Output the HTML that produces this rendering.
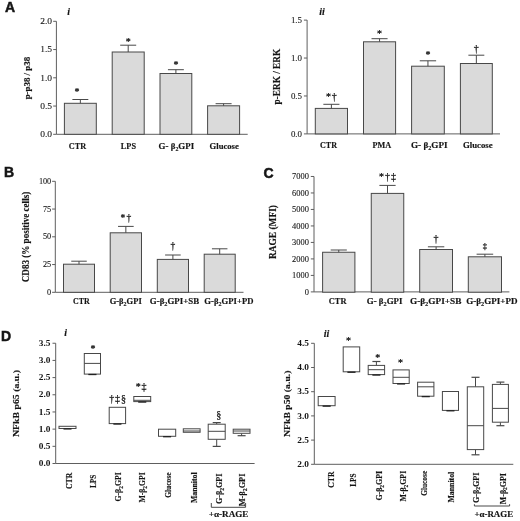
<!DOCTYPE html>
<html><head><meta charset="utf-8"><style>
html,body{margin:0;padding:0;background:#fff;width:520px;height:521px;overflow:hidden}
svg{display:block;filter:grayscale(1) blur(0.35px)}
</style></head><body>
<svg width="520" height="521" viewBox="0 0 520 521">
<rect width="520" height="521" fill="#fff"/>
<text x="4.9" y="12.3" font-family="'Liberation Sans', sans-serif" font-size="14" font-weight="bold" text-anchor="start" fill="#151515" stroke="#151515" stroke-width="0.5">A</text>
<text x="68.6" y="15" font-family="'Liberation Serif', serif" font-size="10" font-weight="bold" font-style="italic" text-anchor="middle" fill="#151515" stroke="#151515" stroke-width="0.15">i</text>
<line x1="56.4" y1="21.3" x2="56.4" y2="134.3" stroke="#5e5e5e" stroke-width="1"/>
<line x1="53.199999999999996" y1="134.3" x2="56.4" y2="134.3" stroke="#5e5e5e" stroke-width="1"/>
<text x="52.1" y="137.1" font-family="'Liberation Serif', serif" font-size="9" font-weight="normal" text-anchor="end" fill="#151515" stroke="#151515" stroke-width="0.1" textLength="11.85" lengthAdjust="spacingAndGlyphs">0.0</text>
<line x1="53.199999999999996" y1="106.05000000000001" x2="56.4" y2="106.05000000000001" stroke="#5e5e5e" stroke-width="1"/>
<text x="52.1" y="108.85" font-family="'Liberation Serif', serif" font-size="9" font-weight="normal" text-anchor="end" fill="#151515" stroke="#151515" stroke-width="0.1" textLength="11.85" lengthAdjust="spacingAndGlyphs">0.5</text>
<line x1="53.199999999999996" y1="77.80000000000001" x2="56.4" y2="77.80000000000001" stroke="#5e5e5e" stroke-width="1"/>
<text x="52.1" y="80.6" font-family="'Liberation Serif', serif" font-size="9" font-weight="normal" text-anchor="end" fill="#151515" stroke="#151515" stroke-width="0.1" textLength="11.85" lengthAdjust="spacingAndGlyphs">1.0</text>
<line x1="53.199999999999996" y1="49.55000000000001" x2="56.4" y2="49.55000000000001" stroke="#5e5e5e" stroke-width="1"/>
<text x="52.1" y="52.35" font-family="'Liberation Serif', serif" font-size="9" font-weight="normal" text-anchor="end" fill="#151515" stroke="#151515" stroke-width="0.1" textLength="11.85" lengthAdjust="spacingAndGlyphs">1.5</text>
<line x1="53.199999999999996" y1="21.30000000000001" x2="56.4" y2="21.30000000000001" stroke="#5e5e5e" stroke-width="1"/>
<text x="52.1" y="24.1" font-family="'Liberation Serif', serif" font-size="9" font-weight="normal" text-anchor="end" fill="#151515" stroke="#151515" stroke-width="0.1" textLength="11.85" lengthAdjust="spacingAndGlyphs">2.0</text>
<line x1="56.4" y1="134.3" x2="247.7" y2="134.3" stroke="#5e5e5e" stroke-width="1"/>
<rect x="64.4" y="103.3" width="31.90" height="31.00" fill="#dadada" stroke="#484848" stroke-width="1"/>
<line x1="80.35" y1="103.3" x2="80.35" y2="99.5" stroke="#484848" stroke-width="1"/>
<line x1="72.375" y1="99.5" x2="88.32499999999999" y2="99.5" stroke="#484848" stroke-width="1"/>
<text x="77.05" y="95.4" font-family="'Liberation Serif', serif" font-size="10" font-weight="normal" text-anchor="middle" fill="#151515" stroke="#151515" stroke-width="0.25">*</text>
<rect x="112.2" y="52.0" width="32.00" height="82.30" fill="#dadada" stroke="#484848" stroke-width="1"/>
<line x1="128.2" y1="52.0" x2="128.2" y2="45.2" stroke="#484848" stroke-width="1"/>
<line x1="120.19999999999999" y1="45.2" x2="136.2" y2="45.2" stroke="#484848" stroke-width="1"/>
<text x="128.2" y="44.9" font-family="'Liberation Serif', serif" font-size="10" font-weight="normal" text-anchor="middle" fill="#151515" stroke="#151515" stroke-width="0.25">*</text>
<rect x="160.0" y="73.5" width="31.80" height="60.80" fill="#dadada" stroke="#484848" stroke-width="1"/>
<line x1="175.9" y1="73.5" x2="175.9" y2="69.7" stroke="#484848" stroke-width="1"/>
<line x1="167.95" y1="69.7" x2="183.85000000000002" y2="69.7" stroke="#484848" stroke-width="1"/>
<text x="175.9" y="67.6" font-family="'Liberation Serif', serif" font-size="10" font-weight="normal" text-anchor="middle" fill="#151515" stroke="#151515" stroke-width="0.25">*</text>
<rect x="207.6" y="105.8" width="32.00" height="28.50" fill="#dadada" stroke="#484848" stroke-width="1"/>
<line x1="223.6" y1="105.8" x2="223.6" y2="103.7" stroke="#484848" stroke-width="1"/>
<line x1="215.6" y1="103.7" x2="231.6" y2="103.7" stroke="#484848" stroke-width="1"/>
<text x="77.5" y="149.3" font-family="'Liberation Serif', serif" font-size="8.3" font-weight="bold" text-anchor="middle" fill="#151515" stroke="#151515" stroke-width="0.15" textLength="17.4" lengthAdjust="spacingAndGlyphs">CTR</text>
<text x="128.4" y="149.3" font-family="'Liberation Serif', serif" font-size="8.3" font-weight="bold" text-anchor="middle" fill="#151515" stroke="#151515" stroke-width="0.15" textLength="15.2" lengthAdjust="spacingAndGlyphs">LPS</text>
<text x="176.4" y="149.3" font-family="'Liberation Serif', serif" font-size="8.3" font-weight="bold" text-anchor="middle" fill="#151515" stroke="#151515" stroke-width="0.15" textLength="35.6" lengthAdjust="spacingAndGlyphs">G- β<tspan dy="1.8" font-size="5.5">2</tspan><tspan dy="-1.8">GPI</tspan></text>
<text x="224.2" y="149.3" font-family="'Liberation Serif', serif" font-size="8.3" font-weight="bold" text-anchor="middle" fill="#151515" stroke="#151515" stroke-width="0.15" textLength="29.2" lengthAdjust="spacingAndGlyphs">Glucose</text>
<text x="30.3" y="78.1" font-family="'Liberation Serif', serif" font-size="9.2" font-weight="bold" text-anchor="middle" fill="#151515" stroke="#151515" stroke-width="0.15" transform="rotate(-90 30.3 78.1)" textLength="42.5" lengthAdjust="spacingAndGlyphs">p-p38 / p38</text>
<text x="322" y="14.5" font-family="'Liberation Serif', serif" font-size="10" font-weight="bold" font-style="italic" text-anchor="middle" fill="#151515" stroke="#151515" stroke-width="0.15">ii</text>
<line x1="307.1" y1="20.1" x2="307.1" y2="133.9" stroke="#5e5e5e" stroke-width="1"/>
<line x1="303.90000000000003" y1="133.9" x2="307.1" y2="133.9" stroke="#5e5e5e" stroke-width="1"/>
<text x="302.0" y="136.7" font-family="'Liberation Serif', serif" font-size="9" font-weight="normal" text-anchor="end" fill="#151515" stroke="#151515" stroke-width="0.1" textLength="11.1" lengthAdjust="spacingAndGlyphs">0.0</text>
<line x1="303.90000000000003" y1="95.97" x2="307.1" y2="95.97" stroke="#5e5e5e" stroke-width="1"/>
<text x="302.0" y="98.77" font-family="'Liberation Serif', serif" font-size="9" font-weight="normal" text-anchor="end" fill="#151515" stroke="#151515" stroke-width="0.1" textLength="11.1" lengthAdjust="spacingAndGlyphs">0.5</text>
<line x1="303.90000000000003" y1="58.040000000000006" x2="307.1" y2="58.040000000000006" stroke="#5e5e5e" stroke-width="1"/>
<text x="302.0" y="60.84" font-family="'Liberation Serif', serif" font-size="9" font-weight="normal" text-anchor="end" fill="#151515" stroke="#151515" stroke-width="0.1" textLength="11.1" lengthAdjust="spacingAndGlyphs">1.0</text>
<line x1="303.90000000000003" y1="20.110000000000014" x2="307.1" y2="20.110000000000014" stroke="#5e5e5e" stroke-width="1"/>
<text x="302.0" y="22.91" font-family="'Liberation Serif', serif" font-size="9" font-weight="normal" text-anchor="end" fill="#151515" stroke="#151515" stroke-width="0.1" textLength="11.1" lengthAdjust="spacingAndGlyphs">1.5</text>
<line x1="307.1" y1="133.9" x2="500" y2="133.9" stroke="#5e5e5e" stroke-width="1"/>
<rect x="315.3" y="108.4" width="32.20" height="25.50" fill="#dadada" stroke="#484848" stroke-width="1"/>
<line x1="331.4" y1="108.4" x2="331.4" y2="104.3" stroke="#484848" stroke-width="1"/>
<line x1="323.34999999999997" y1="104.3" x2="339.45" y2="104.3" stroke="#484848" stroke-width="1"/>
<text x="331.4" y="99.6" font-family="'Liberation Serif', serif" font-size="10" font-weight="normal" text-anchor="middle" fill="#151515" stroke="#151515" stroke-width="0.25" textLength="10.9" lengthAdjust="spacing">*†</text>
<rect x="363.5" y="41.8" width="32.10" height="92.10" fill="#dadada" stroke="#484848" stroke-width="1"/>
<line x1="379.55" y1="41.8" x2="379.55" y2="38.7" stroke="#484848" stroke-width="1"/>
<line x1="371.525" y1="38.7" x2="387.57500000000005" y2="38.7" stroke="#484848" stroke-width="1"/>
<text x="379.55" y="37.0" font-family="'Liberation Serif', serif" font-size="10" font-weight="normal" text-anchor="middle" fill="#151515" stroke="#151515" stroke-width="0.25">*</text>
<rect x="411.6" y="66.2" width="32.70" height="67.70" fill="#dadada" stroke="#484848" stroke-width="1"/>
<line x1="427.95000000000005" y1="66.2" x2="427.95000000000005" y2="60.8" stroke="#484848" stroke-width="1"/>
<line x1="419.77500000000003" y1="60.8" x2="436.12500000000006" y2="60.8" stroke="#484848" stroke-width="1"/>
<text x="427.95000000000005" y="58.1" font-family="'Liberation Serif', serif" font-size="10" font-weight="normal" text-anchor="middle" fill="#151515" stroke="#151515" stroke-width="0.25">*</text>
<rect x="460.4" y="63.5" width="31.90" height="70.40" fill="#dadada" stroke="#484848" stroke-width="1"/>
<line x1="476.35" y1="63.5" x2="476.35" y2="55.2" stroke="#484848" stroke-width="1"/>
<line x1="468.375" y1="55.2" x2="484.32500000000005" y2="55.2" stroke="#484848" stroke-width="1"/>
<text x="476.35" y="51.8" font-family="'Liberation Serif', serif" font-size="10" font-weight="normal" text-anchor="middle" fill="#151515" stroke="#151515" stroke-width="0.25">†</text>
<text x="328.5" y="147.8" font-family="'Liberation Serif', serif" font-size="8.3" font-weight="bold" text-anchor="middle" fill="#151515" stroke="#151515" stroke-width="0.15" textLength="17" lengthAdjust="spacingAndGlyphs">CTR</text>
<text x="381.8" y="147.8" font-family="'Liberation Serif', serif" font-size="8.3" font-weight="bold" text-anchor="middle" fill="#151515" stroke="#151515" stroke-width="0.15" textLength="18.7" lengthAdjust="spacingAndGlyphs">PMA</text>
<text x="429.3" y="147.8" font-family="'Liberation Serif', serif" font-size="8.3" font-weight="bold" text-anchor="middle" fill="#151515" stroke="#151515" stroke-width="0.15" textLength="36.7" lengthAdjust="spacingAndGlyphs">G- β<tspan dy="1.8" font-size="5.5">2</tspan><tspan dy="-1.8">GPI</tspan></text>
<text x="477.8" y="147.8" font-family="'Liberation Serif', serif" font-size="8.3" font-weight="bold" text-anchor="middle" fill="#151515" stroke="#151515" stroke-width="0.15" textLength="29.6" lengthAdjust="spacingAndGlyphs">Glucose</text>
<text x="280.3" y="76.6" font-family="'Liberation Serif', serif" font-size="9.4" font-weight="bold" text-anchor="middle" fill="#151515" stroke="#151515" stroke-width="0.15" transform="rotate(-90 280.3 76.6)" textLength="55.6" lengthAdjust="spacingAndGlyphs">p-ERK / ERK</text>
<text x="4.0" y="177.4" font-family="'Liberation Sans', sans-serif" font-size="14" font-weight="bold" text-anchor="start" fill="#151515" stroke="#151515" stroke-width="0.5">B</text>
<line x1="55.3" y1="181.3" x2="55.3" y2="292.3" stroke="#5e5e5e" stroke-width="1"/>
<line x1="52.099999999999994" y1="292.3" x2="55.3" y2="292.3" stroke="#5e5e5e" stroke-width="1"/>
<text x="51.2" y="294.9" font-family="'Liberation Serif', serif" font-size="8" font-weight="normal" text-anchor="end" fill="#151515" stroke="#151515" stroke-width="0.1" textLength="4.1" lengthAdjust="spacingAndGlyphs">0</text>
<line x1="52.099999999999994" y1="264.55" x2="55.3" y2="264.55" stroke="#5e5e5e" stroke-width="1"/>
<text x="51.2" y="267.15" font-family="'Liberation Serif', serif" font-size="8" font-weight="normal" text-anchor="end" fill="#151515" stroke="#151515" stroke-width="0.1" textLength="8.2" lengthAdjust="spacingAndGlyphs">25</text>
<line x1="52.099999999999994" y1="236.8" x2="55.3" y2="236.8" stroke="#5e5e5e" stroke-width="1"/>
<text x="51.2" y="239.4" font-family="'Liberation Serif', serif" font-size="8" font-weight="normal" text-anchor="end" fill="#151515" stroke="#151515" stroke-width="0.1" textLength="8.2" lengthAdjust="spacingAndGlyphs">50</text>
<line x1="52.099999999999994" y1="209.05" x2="55.3" y2="209.05" stroke="#5e5e5e" stroke-width="1"/>
<text x="51.2" y="211.65" font-family="'Liberation Serif', serif" font-size="8" font-weight="normal" text-anchor="end" fill="#151515" stroke="#151515" stroke-width="0.1" textLength="8.2" lengthAdjust="spacingAndGlyphs">75</text>
<line x1="52.099999999999994" y1="181.3" x2="55.3" y2="181.3" stroke="#5e5e5e" stroke-width="1"/>
<text x="51.2" y="183.9" font-family="'Liberation Serif', serif" font-size="8" font-weight="normal" text-anchor="end" fill="#151515" stroke="#151515" stroke-width="0.1" textLength="12.3" lengthAdjust="spacingAndGlyphs">100</text>
<line x1="55.3" y1="292.3" x2="243.5" y2="292.3" stroke="#5e5e5e" stroke-width="1"/>
<rect x="63.5" y="264.2" width="31.00" height="28.10" fill="#dadada" stroke="#484848" stroke-width="1"/>
<line x1="79.0" y1="264.2" x2="79.0" y2="261.2" stroke="#484848" stroke-width="1"/>
<line x1="71.25" y1="261.2" x2="86.75" y2="261.2" stroke="#484848" stroke-width="1"/>
<rect x="110.2" y="232.8" width="31.30" height="59.50" fill="#dadada" stroke="#484848" stroke-width="1"/>
<line x1="125.85" y1="232.8" x2="125.85" y2="226.4" stroke="#484848" stroke-width="1"/>
<line x1="118.02499999999999" y1="226.4" x2="133.67499999999998" y2="226.4" stroke="#484848" stroke-width="1"/>
<text x="125.85" y="220.8" font-family="'Liberation Serif', serif" font-size="9.5" font-weight="normal" text-anchor="middle" fill="#151515" stroke="#151515" stroke-width="0.25" textLength="10.65" lengthAdjust="spacing">*†</text>
<rect x="157.3" y="259.4" width="31.20" height="32.90" fill="#dadada" stroke="#484848" stroke-width="1"/>
<line x1="172.9" y1="259.4" x2="172.9" y2="255.0" stroke="#484848" stroke-width="1"/>
<line x1="165.10000000000002" y1="255.0" x2="180.7" y2="255.0" stroke="#484848" stroke-width="1"/>
<text x="172.9" y="249.2" font-family="'Liberation Serif', serif" font-size="9.5" font-weight="normal" text-anchor="middle" fill="#151515" stroke="#151515" stroke-width="0.25">†</text>
<rect x="204.2" y="254.2" width="31.00" height="38.10" fill="#dadada" stroke="#484848" stroke-width="1"/>
<line x1="219.7" y1="254.2" x2="219.7" y2="248.8" stroke="#484848" stroke-width="1"/>
<line x1="211.95" y1="248.8" x2="227.45" y2="248.8" stroke="#484848" stroke-width="1"/>
<text x="81.4" y="303.8" font-family="'Liberation Serif', serif" font-size="7.9" font-weight="bold" text-anchor="middle" fill="#151515" stroke="#151515" stroke-width="0.15" textLength="16.7" lengthAdjust="spacingAndGlyphs">CTR</text>
<text x="125.7" y="303.8" font-family="'Liberation Serif', serif" font-size="7.9" font-weight="bold" text-anchor="middle" fill="#151515" stroke="#151515" stroke-width="0.15" textLength="32.1" lengthAdjust="spacingAndGlyphs">G-β<tspan dy="1.8" font-size="5.5">2</tspan><tspan dy="-1.8">GPI</tspan></text>
<text x="174.5" y="303.8" font-family="'Liberation Serif', serif" font-size="7.9" font-weight="bold" text-anchor="middle" fill="#151515" stroke="#151515" stroke-width="0.15" textLength="49.3" lengthAdjust="spacingAndGlyphs">G-β<tspan dy="1.8" font-size="5.5">2</tspan><tspan dy="-1.8">GPI</tspan>+SB</text>
<text x="228.9" y="303.8" font-family="'Liberation Serif', serif" font-size="7.9" font-weight="bold" text-anchor="middle" fill="#151515" stroke="#151515" stroke-width="0.15" textLength="49.1" lengthAdjust="spacingAndGlyphs">G-β<tspan dy="1.8" font-size="5.5">2</tspan><tspan dy="-1.8">GPI</tspan>+PD</text>
<text x="28.6" y="237" font-family="'Liberation Serif', serif" font-size="9.8" font-weight="bold" text-anchor="middle" fill="#151515" stroke="#151515" stroke-width="0.15" transform="rotate(-90 28.6 237)" textLength="90.4" lengthAdjust="spacingAndGlyphs">CD83 (% positive cells)</text>
<text x="263.5" y="177.8" font-family="'Liberation Sans', sans-serif" font-size="14" font-weight="bold" text-anchor="start" fill="#151515" stroke="#151515" stroke-width="0.5">C</text>
<line x1="314" y1="176.5" x2="314" y2="291.9" stroke="#5e5e5e" stroke-width="1"/>
<line x1="310.8" y1="291.9" x2="314" y2="291.9" stroke="#5e5e5e" stroke-width="1"/>
<text x="308.9" y="294.5" font-family="'Liberation Serif', serif" font-size="8" font-weight="normal" text-anchor="end" fill="#151515" stroke="#151515" stroke-width="0.1" textLength="4.2" lengthAdjust="spacingAndGlyphs">0</text>
<line x1="310.8" y1="275.40999999999997" x2="314" y2="275.40999999999997" stroke="#5e5e5e" stroke-width="1"/>
<text x="308.9" y="278.01" font-family="'Liberation Serif', serif" font-size="8" font-weight="normal" text-anchor="end" fill="#151515" stroke="#151515" stroke-width="0.1" textLength="16.8" lengthAdjust="spacingAndGlyphs">1000</text>
<line x1="310.8" y1="258.91999999999996" x2="314" y2="258.91999999999996" stroke="#5e5e5e" stroke-width="1"/>
<text x="308.9" y="261.52" font-family="'Liberation Serif', serif" font-size="8" font-weight="normal" text-anchor="end" fill="#151515" stroke="#151515" stroke-width="0.1" textLength="16.8" lengthAdjust="spacingAndGlyphs">2000</text>
<line x1="310.8" y1="242.42999999999998" x2="314" y2="242.42999999999998" stroke="#5e5e5e" stroke-width="1"/>
<text x="308.9" y="245.03" font-family="'Liberation Serif', serif" font-size="8" font-weight="normal" text-anchor="end" fill="#151515" stroke="#151515" stroke-width="0.1" textLength="16.8" lengthAdjust="spacingAndGlyphs">3000</text>
<line x1="310.8" y1="225.94" x2="314" y2="225.94" stroke="#5e5e5e" stroke-width="1"/>
<text x="308.9" y="228.54" font-family="'Liberation Serif', serif" font-size="8" font-weight="normal" text-anchor="end" fill="#151515" stroke="#151515" stroke-width="0.1" textLength="16.8" lengthAdjust="spacingAndGlyphs">4000</text>
<line x1="310.8" y1="209.45" x2="314" y2="209.45" stroke="#5e5e5e" stroke-width="1"/>
<text x="308.9" y="212.05" font-family="'Liberation Serif', serif" font-size="8" font-weight="normal" text-anchor="end" fill="#151515" stroke="#151515" stroke-width="0.1" textLength="16.8" lengthAdjust="spacingAndGlyphs">5000</text>
<line x1="310.8" y1="192.95999999999998" x2="314" y2="192.95999999999998" stroke="#5e5e5e" stroke-width="1"/>
<text x="308.9" y="195.56" font-family="'Liberation Serif', serif" font-size="8" font-weight="normal" text-anchor="end" fill="#151515" stroke="#151515" stroke-width="0.1" textLength="16.8" lengthAdjust="spacingAndGlyphs">6000</text>
<line x1="310.8" y1="176.46999999999997" x2="314" y2="176.46999999999997" stroke="#5e5e5e" stroke-width="1"/>
<text x="308.9" y="179.07" font-family="'Liberation Serif', serif" font-size="8" font-weight="normal" text-anchor="end" fill="#151515" stroke="#151515" stroke-width="0.1" textLength="16.8" lengthAdjust="spacingAndGlyphs">7000</text>
<line x1="314" y1="291.9" x2="509.4" y2="291.9" stroke="#5e5e5e" stroke-width="1"/>
<rect x="322.6" y="252.25" width="32.30" height="39.95" fill="#dadada" stroke="#484848" stroke-width="1"/>
<line x1="338.75" y1="252.25" x2="338.75" y2="250" stroke="#484848" stroke-width="1"/>
<line x1="330.675" y1="250" x2="346.825" y2="250" stroke="#484848" stroke-width="1"/>
<rect x="371.25" y="193.4" width="32.50" height="98.80" fill="#dadada" stroke="#484848" stroke-width="1"/>
<line x1="387.5" y1="193.4" x2="387.5" y2="185.4" stroke="#484848" stroke-width="1"/>
<line x1="379.375" y1="185.4" x2="395.625" y2="185.4" stroke="#484848" stroke-width="1"/>
<text x="387.5" y="179.5" font-family="'Liberation Serif', serif" font-size="10" font-weight="normal" text-anchor="middle" fill="#151515" stroke="#151515" stroke-width="0.25" textLength="16.8" lengthAdjust="spacing">*†‡</text>
<rect x="419.7" y="249.5" width="32.80" height="42.70" fill="#dadada" stroke="#484848" stroke-width="1"/>
<line x1="436.1" y1="249.5" x2="436.1" y2="246.8" stroke="#484848" stroke-width="1"/>
<line x1="427.90000000000003" y1="246.8" x2="444.3" y2="246.8" stroke="#484848" stroke-width="1"/>
<text x="436.1" y="241.7" font-family="'Liberation Serif', serif" font-size="10" font-weight="normal" text-anchor="middle" fill="#151515" stroke="#151515" stroke-width="0.25">†</text>
<rect x="468.3" y="256.8" width="33.20" height="35.40" fill="#dadada" stroke="#484848" stroke-width="1"/>
<line x1="484.9" y1="256.8" x2="484.9" y2="254.2" stroke="#484848" stroke-width="1"/>
<line x1="476.59999999999997" y1="254.2" x2="493.2" y2="254.2" stroke="#484848" stroke-width="1"/>
<text x="484.9" y="249.4" font-family="'Liberation Serif', serif" font-size="8.5" font-weight="normal" text-anchor="middle" fill="#151515" stroke="#151515" stroke-width="0.25">‡</text>
<text x="337.6" y="303.9" font-family="'Liberation Serif', serif" font-size="7.9" font-weight="bold" text-anchor="middle" fill="#151515" stroke="#151515" stroke-width="0.15" textLength="17.7" lengthAdjust="spacingAndGlyphs">CTR</text>
<text x="384.6" y="303.9" font-family="'Liberation Serif', serif" font-size="7.9" font-weight="bold" text-anchor="middle" fill="#151515" stroke="#151515" stroke-width="0.15" textLength="35.7" lengthAdjust="spacingAndGlyphs">G- β<tspan dy="1.8" font-size="5.5">2</tspan><tspan dy="-1.8">GPI</tspan></text>
<text x="435.7" y="303.9" font-family="'Liberation Serif', serif" font-size="7.9" font-weight="bold" text-anchor="middle" fill="#151515" stroke="#151515" stroke-width="0.15" textLength="51.5" lengthAdjust="spacingAndGlyphs">G-β<tspan dy="1.8" font-size="5.5">2</tspan><tspan dy="-1.8">GPI</tspan>+SB</text>
<text x="491.9" y="303.9" font-family="'Liberation Serif', serif" font-size="7.9" font-weight="bold" text-anchor="middle" fill="#151515" stroke="#151515" stroke-width="0.15" textLength="51.4" lengthAdjust="spacingAndGlyphs">G-β<tspan dy="1.8" font-size="5.5">2</tspan><tspan dy="-1.8">GPI</tspan>+PD</text>
<text x="276" y="232" font-family="'Liberation Serif', serif" font-size="9.3" font-weight="bold" text-anchor="middle" fill="#151515" stroke="#151515" stroke-width="0.15" transform="rotate(-90 276 232)" textLength="54" lengthAdjust="spacingAndGlyphs">RAGE (MFI)</text>
<text x="1.0" y="340.8" font-family="'Liberation Sans', sans-serif" font-size="14" font-weight="bold" text-anchor="start" fill="#151515" stroke="#151515" stroke-width="0.5">D</text>
<text x="65.7" y="336.1" font-family="'Liberation Serif', serif" font-size="10" font-weight="bold" font-style="italic" text-anchor="middle" fill="#151515" stroke="#151515" stroke-width="0.15">i</text>
<line x1="55.7" y1="343.2" x2="55.7" y2="463.5" stroke="#5e5e5e" stroke-width="1"/>
<line x1="52.5" y1="463.5" x2="55.7" y2="463.5" stroke="#5e5e5e" stroke-width="1"/>
<text x="50.5" y="466.1" font-family="'Liberation Serif', serif" font-size="7.8" font-weight="bold" text-anchor="end" fill="#151515" textLength="11.7" lengthAdjust="spacingAndGlyphs">0.0</text>
<line x1="52.5" y1="446.32" x2="55.7" y2="446.32" stroke="#5e5e5e" stroke-width="1"/>
<text x="50.5" y="448.92" font-family="'Liberation Serif', serif" font-size="7.8" font-weight="bold" text-anchor="end" fill="#151515" textLength="11.7" lengthAdjust="spacingAndGlyphs">0.5</text>
<line x1="52.5" y1="429.14" x2="55.7" y2="429.14" stroke="#5e5e5e" stroke-width="1"/>
<text x="50.5" y="431.74" font-family="'Liberation Serif', serif" font-size="7.8" font-weight="bold" text-anchor="end" fill="#151515" textLength="11.7" lengthAdjust="spacingAndGlyphs">1.0</text>
<line x1="52.5" y1="411.96" x2="55.7" y2="411.96" stroke="#5e5e5e" stroke-width="1"/>
<text x="50.5" y="414.56" font-family="'Liberation Serif', serif" font-size="7.8" font-weight="bold" text-anchor="end" fill="#151515" textLength="11.7" lengthAdjust="spacingAndGlyphs">1.5</text>
<line x1="52.5" y1="394.78" x2="55.7" y2="394.78" stroke="#5e5e5e" stroke-width="1"/>
<text x="50.5" y="397.38" font-family="'Liberation Serif', serif" font-size="7.8" font-weight="bold" text-anchor="end" fill="#151515" textLength="11.7" lengthAdjust="spacingAndGlyphs">2.0</text>
<line x1="52.5" y1="377.6" x2="55.7" y2="377.6" stroke="#5e5e5e" stroke-width="1"/>
<text x="50.5" y="380.2" font-family="'Liberation Serif', serif" font-size="7.8" font-weight="bold" text-anchor="end" fill="#151515" textLength="11.7" lengthAdjust="spacingAndGlyphs">2.5</text>
<line x1="52.5" y1="360.42" x2="55.7" y2="360.42" stroke="#5e5e5e" stroke-width="1"/>
<text x="50.5" y="363.02" font-family="'Liberation Serif', serif" font-size="7.8" font-weight="bold" text-anchor="end" fill="#151515" textLength="11.7" lengthAdjust="spacingAndGlyphs">3.0</text>
<line x1="52.5" y1="343.24" x2="55.7" y2="343.24" stroke="#5e5e5e" stroke-width="1"/>
<text x="50.5" y="345.84" font-family="'Liberation Serif', serif" font-size="7.8" font-weight="bold" text-anchor="end" fill="#151515" textLength="11.7" lengthAdjust="spacingAndGlyphs">3.5</text>
<line x1="55.7" y1="463.5" x2="254.6" y2="463.5" stroke="#5e5e5e" stroke-width="1"/>
<line x1="67.5" y1="428.5" x2="67.5" y2="428.5" stroke="#484848" stroke-width="1"/>
<line x1="63.5" y1="428.5" x2="71.5" y2="428.5" stroke="#484848" stroke-width="1.2"/>
<rect x="59.0" y="426.3" width="17.00" height="2.20" fill="#fff" stroke="#484848" stroke-width="1"/>
<line x1="63.5" y1="428.9" x2="71.5" y2="428.9" stroke="#222" stroke-width="1.3"/>
<line x1="92.4" y1="374.1" x2="92.4" y2="374.1" stroke="#484848" stroke-width="1"/>
<line x1="88.4" y1="374.1" x2="96.4" y2="374.1" stroke="#484848" stroke-width="1.2"/>
<rect x="84.3" y="353.5" width="16.20" height="20.60" fill="#fff" stroke="#484848" stroke-width="1"/>
<line x1="84.3" y1="363.4" x2="100.5" y2="363.4" stroke="#484848" stroke-width="1"/>
<line x1="88.4" y1="374.5" x2="96.4" y2="374.5" stroke="#222" stroke-width="1.3"/>
<text x="93" y="351.5" font-family="'Liberation Serif', serif" font-size="10" font-weight="normal" text-anchor="middle" fill="#151515" stroke="#151515" stroke-width="0.25">*</text>
<line x1="117.4" y1="423.6" x2="117.4" y2="423.6" stroke="#484848" stroke-width="1"/>
<line x1="113.4" y1="423.6" x2="121.4" y2="423.6" stroke="#484848" stroke-width="1.2"/>
<rect x="109.2" y="407.3" width="16.40" height="16.30" fill="#fff" stroke="#484848" stroke-width="1"/>
<line x1="113.4" y1="424.0" x2="121.4" y2="424.0" stroke="#222" stroke-width="1.3"/>
<text x="117.6" y="402" font-family="'Liberation Serif', serif" font-size="10" font-weight="normal" text-anchor="middle" fill="#151515" stroke="#151515" stroke-width="0.25" textLength="16.6" lengthAdjust="spacing">†‡§</text>
<line x1="142.25" y1="401.6" x2="142.25" y2="401.6" stroke="#484848" stroke-width="1"/>
<line x1="138.25" y1="401.6" x2="146.25" y2="401.6" stroke="#484848" stroke-width="1.2"/>
<rect x="133.8" y="396.5" width="16.90" height="5.10" fill="#fff" stroke="#484848" stroke-width="1"/>
<line x1="133.8" y1="400.3" x2="150.7" y2="400.3" stroke="#484848" stroke-width="1"/>
<line x1="138.25" y1="402.0" x2="146.25" y2="402.0" stroke="#222" stroke-width="1.3"/>
<text x="141.1" y="390.2" font-family="'Liberation Serif', serif" font-size="10" font-weight="normal" text-anchor="middle" fill="#151515" stroke="#151515" stroke-width="0.25" textLength="10.8" lengthAdjust="spacing">*‡</text>
<line x1="167.1" y1="436.3" x2="167.1" y2="436.3" stroke="#484848" stroke-width="1"/>
<line x1="163.1" y1="436.3" x2="171.1" y2="436.3" stroke="#484848" stroke-width="1.2"/>
<rect x="158.5" y="429.2" width="17.20" height="7.10" fill="#fff" stroke="#484848" stroke-width="1"/>
<line x1="163.1" y1="436.7" x2="171.1" y2="436.7" stroke="#222" stroke-width="1.3"/>
<rect x="183.3" y="428.8" width="16.80" height="3.50" fill="#fff" stroke="#484848" stroke-width="1"/>
<line x1="183.3" y1="431.0" x2="200.1" y2="431.0" stroke="#484848" stroke-width="1"/>
<line x1="216.7" y1="422.6" x2="216.7" y2="424.2" stroke="#484848" stroke-width="1"/>
<line x1="212.7" y1="422.6" x2="220.7" y2="422.6" stroke="#484848" stroke-width="1.2"/>
<line x1="216.7" y1="439.3" x2="216.7" y2="446.4" stroke="#484848" stroke-width="1"/>
<line x1="212.7" y1="446.4" x2="220.7" y2="446.4" stroke="#484848" stroke-width="1.2"/>
<rect x="208.2" y="424.2" width="17.00" height="15.10" fill="#fff" stroke="#484848" stroke-width="1"/>
<line x1="208.2" y1="431.3" x2="225.2" y2="431.3" stroke="#484848" stroke-width="1"/>
<text x="218.7" y="417.8" font-family="'Liberation Serif', serif" font-size="10" font-weight="normal" text-anchor="middle" fill="#151515" stroke="#151515" stroke-width="0.25">§</text>
<line x1="241.6" y1="433.3" x2="241.6" y2="435.7" stroke="#484848" stroke-width="1"/>
<line x1="237.6" y1="435.7" x2="245.6" y2="435.7" stroke="#484848" stroke-width="1.2"/>
<rect x="233.2" y="429.2" width="16.80" height="4.10" fill="#fff" stroke="#484848" stroke-width="1"/>
<line x1="233.2" y1="431.0" x2="250.0" y2="431.0" stroke="#484848" stroke-width="1"/>
<text x="72.5" y="472.7" font-family="'Liberation Serif', serif" font-size="8" font-weight="bold" text-anchor="end" fill="#151515" stroke="#151515" stroke-width="0.15" transform="rotate(-90 72.5 472.7)" textLength="16.3" lengthAdjust="spacingAndGlyphs">CTR</text>
<text x="95.8" y="474.6" font-family="'Liberation Serif', serif" font-size="8" font-weight="bold" text-anchor="end" fill="#151515" stroke="#151515" stroke-width="0.15" transform="rotate(-90 95.8 474.6)" textLength="13.5" lengthAdjust="spacingAndGlyphs">LPS</text>
<text x="121.3" y="472.3" font-family="'Liberation Serif', serif" font-size="8" font-weight="bold" text-anchor="end" fill="#151515" stroke="#151515" stroke-width="0.15" transform="rotate(-90 121.3 472.3)" textLength="29.2" lengthAdjust="spacingAndGlyphs">G-β<tspan dy="1.8" font-size="5.5">2</tspan><tspan dy="-1.8">GPI</tspan></text>
<text x="145" y="472.3" font-family="'Liberation Serif', serif" font-size="8" font-weight="bold" text-anchor="end" fill="#151515" stroke="#151515" stroke-width="0.15" transform="rotate(-90 145 472.3)" textLength="30.2" lengthAdjust="spacingAndGlyphs">M-β<tspan dy="1.8" font-size="5.5">2</tspan><tspan dy="-1.8">GPI</tspan></text>
<text x="171.2" y="472.4" font-family="'Liberation Serif', serif" font-size="8" font-weight="bold" text-anchor="end" fill="#151515" stroke="#151515" stroke-width="0.15" transform="rotate(-90 171.2 472.4)" textLength="25.4" lengthAdjust="spacingAndGlyphs">Glucose</text>
<text x="197" y="472.4" font-family="'Liberation Serif', serif" font-size="8" font-weight="bold" text-anchor="end" fill="#151515" stroke="#151515" stroke-width="0.15" transform="rotate(-90 197 472.4)" textLength="30.7" lengthAdjust="spacingAndGlyphs">Mannitol</text>
<text x="221.9" y="473.5" font-family="'Liberation Serif', serif" font-size="8" font-weight="bold" text-anchor="end" fill="#151515" stroke="#151515" stroke-width="0.15" transform="rotate(-90 221.9 473.5)" textLength="30.6" lengthAdjust="spacingAndGlyphs">G-β<tspan dy="1.8" font-size="5.5">2</tspan><tspan dy="-1.8">GPI</tspan></text>
<text x="245.2" y="473.5" font-family="'Liberation Serif', serif" font-size="8" font-weight="bold" text-anchor="end" fill="#151515" stroke="#151515" stroke-width="0.15" transform="rotate(-90 245.2 473.5)" textLength="32.8" lengthAdjust="spacingAndGlyphs">M-β<tspan dy="1.8" font-size="5.5">2</tspan><tspan dy="-1.8">GPI</tspan></text>
<line x1="211.3" y1="503" x2="211.3" y2="507.3" stroke="#484848" stroke-width="1"/>
<line x1="245.6" y1="503" x2="245.6" y2="507.3" stroke="#484848" stroke-width="1"/>
<line x1="211.3" y1="507.3" x2="245.6" y2="507.3" stroke="#484848" stroke-width="1"/>
<text x="228.6" y="516.8" font-family="'Liberation Serif', serif" font-size="8.3" font-weight="bold" text-anchor="middle" fill="#151515" stroke="#151515" stroke-width="0.15" textLength="39.6" lengthAdjust="spacingAndGlyphs">+α-RAGE</text>
<text x="19.2" y="403.5" font-family="'Liberation Serif', serif" font-size="9.2" font-weight="bold" text-anchor="middle" fill="#151515" stroke="#151515" stroke-width="0.15" transform="rotate(-90 19.2 403.5)" textLength="67" lengthAdjust="spacingAndGlyphs">NFkB p65 (a.u.)</text>
<text x="326.6" y="337.4" font-family="'Liberation Serif', serif" font-size="10" font-weight="bold" font-style="italic" text-anchor="middle" fill="#151515" stroke="#151515" stroke-width="0.15">ii</text>
<line x1="314.3" y1="343.3" x2="314.3" y2="464.3" stroke="#5e5e5e" stroke-width="1"/>
<line x1="311.1" y1="464.3" x2="314.3" y2="464.3" stroke="#5e5e5e" stroke-width="1"/>
<text x="309" y="466.9" font-family="'Liberation Serif', serif" font-size="7.8" font-weight="bold" text-anchor="end" fill="#151515" textLength="11.7" lengthAdjust="spacingAndGlyphs">2.0</text>
<line x1="311.1" y1="440.1" x2="314.3" y2="440.1" stroke="#5e5e5e" stroke-width="1"/>
<text x="309" y="442.7" font-family="'Liberation Serif', serif" font-size="7.8" font-weight="bold" text-anchor="end" fill="#151515" textLength="11.7" lengthAdjust="spacingAndGlyphs">2.5</text>
<line x1="311.1" y1="415.90000000000003" x2="314.3" y2="415.90000000000003" stroke="#5e5e5e" stroke-width="1"/>
<text x="309" y="418.5" font-family="'Liberation Serif', serif" font-size="7.8" font-weight="bold" text-anchor="end" fill="#151515" textLength="11.7" lengthAdjust="spacingAndGlyphs">3.0</text>
<line x1="311.1" y1="391.70000000000005" x2="314.3" y2="391.70000000000005" stroke="#5e5e5e" stroke-width="1"/>
<text x="309" y="394.3" font-family="'Liberation Serif', serif" font-size="7.8" font-weight="bold" text-anchor="end" fill="#151515" textLength="11.7" lengthAdjust="spacingAndGlyphs">3.5</text>
<line x1="311.1" y1="367.5" x2="314.3" y2="367.5" stroke="#5e5e5e" stroke-width="1"/>
<text x="309" y="370.1" font-family="'Liberation Serif', serif" font-size="7.8" font-weight="bold" text-anchor="end" fill="#151515" textLength="11.7" lengthAdjust="spacingAndGlyphs">4.0</text>
<line x1="311.1" y1="343.3" x2="314.3" y2="343.3" stroke="#5e5e5e" stroke-width="1"/>
<text x="309" y="345.9" font-family="'Liberation Serif', serif" font-size="7.8" font-weight="bold" text-anchor="end" fill="#151515" textLength="11.7" lengthAdjust="spacingAndGlyphs">4.5</text>
<line x1="314.3" y1="464.3" x2="513.3" y2="464.3" stroke="#5e5e5e" stroke-width="1"/>
<line x1="326.65" y1="405.7" x2="326.65" y2="405.7" stroke="#484848" stroke-width="1"/>
<line x1="322.65" y1="405.7" x2="330.65" y2="405.7" stroke="#484848" stroke-width="1.2"/>
<rect x="318.2" y="396.5" width="16.90" height="9.20" fill="#fff" stroke="#484848" stroke-width="1"/>
<line x1="322.65" y1="406.09999999999997" x2="330.65" y2="406.09999999999997" stroke="#222" stroke-width="1.3"/>
<line x1="351.45" y1="371.8" x2="351.45" y2="371.8" stroke="#484848" stroke-width="1"/>
<line x1="347.45" y1="371.8" x2="355.45" y2="371.8" stroke="#484848" stroke-width="1.2"/>
<rect x="343.2" y="346.9" width="16.50" height="24.90" fill="#fff" stroke="#484848" stroke-width="1"/>
<line x1="347.45" y1="372.2" x2="355.45" y2="372.2" stroke="#222" stroke-width="1.3"/>
<text x="348.5" y="343.9" font-family="'Liberation Serif', serif" font-size="10" font-weight="normal" text-anchor="middle" fill="#151515" stroke="#151515" stroke-width="0.25">*</text>
<line x1="376.4" y1="361.5" x2="376.4" y2="365.4" stroke="#484848" stroke-width="1"/>
<line x1="372.4" y1="361.5" x2="380.4" y2="361.5" stroke="#484848" stroke-width="1.2"/>
<line x1="376.4" y1="374.6" x2="376.4" y2="374.6" stroke="#484848" stroke-width="1"/>
<line x1="372.4" y1="374.6" x2="380.4" y2="374.6" stroke="#484848" stroke-width="1.2"/>
<rect x="368.2" y="365.4" width="16.40" height="9.20" fill="#fff" stroke="#484848" stroke-width="1"/>
<line x1="368.2" y1="369.7" x2="384.6" y2="369.7" stroke="#484848" stroke-width="1"/>
<line x1="372.4" y1="375.0" x2="380.4" y2="375.0" stroke="#222" stroke-width="1.3"/>
<text x="377.7" y="361.3" font-family="'Liberation Serif', serif" font-size="10" font-weight="normal" text-anchor="middle" fill="#151515" stroke="#151515" stroke-width="0.25">*</text>
<line x1="401.1" y1="383.5" x2="401.1" y2="383.5" stroke="#484848" stroke-width="1"/>
<line x1="397.1" y1="383.5" x2="405.1" y2="383.5" stroke="#484848" stroke-width="1.2"/>
<rect x="393.0" y="369.9" width="16.20" height="13.60" fill="#fff" stroke="#484848" stroke-width="1"/>
<line x1="393.0" y1="377.3" x2="409.2" y2="377.3" stroke="#484848" stroke-width="1"/>
<line x1="397.1" y1="383.9" x2="405.1" y2="383.9" stroke="#222" stroke-width="1.3"/>
<text x="400.4" y="365.6" font-family="'Liberation Serif', serif" font-size="10" font-weight="normal" text-anchor="middle" fill="#151515" stroke="#151515" stroke-width="0.25">*</text>
<line x1="425.75" y1="396.2" x2="425.75" y2="396.2" stroke="#484848" stroke-width="1"/>
<line x1="421.75" y1="396.2" x2="429.75" y2="396.2" stroke="#484848" stroke-width="1.2"/>
<rect x="417.6" y="382.2" width="16.30" height="14.00" fill="#fff" stroke="#484848" stroke-width="1"/>
<line x1="417.6" y1="386.8" x2="433.9" y2="386.8" stroke="#484848" stroke-width="1"/>
<line x1="421.75" y1="396.59999999999997" x2="429.75" y2="396.59999999999997" stroke="#222" stroke-width="1.3"/>
<line x1="450.45" y1="410.4" x2="450.45" y2="410.4" stroke="#484848" stroke-width="1"/>
<line x1="446.45" y1="410.4" x2="454.45" y2="410.4" stroke="#484848" stroke-width="1.2"/>
<rect x="442.4" y="391.5" width="16.10" height="18.90" fill="#fff" stroke="#484848" stroke-width="1"/>
<line x1="446.45" y1="410.79999999999995" x2="454.45" y2="410.79999999999995" stroke="#222" stroke-width="1.3"/>
<line x1="475.5" y1="377.3" x2="475.5" y2="386.8" stroke="#484848" stroke-width="1"/>
<line x1="471.5" y1="377.3" x2="479.5" y2="377.3" stroke="#484848" stroke-width="1.2"/>
<line x1="475.5" y1="449.6" x2="475.5" y2="454.8" stroke="#484848" stroke-width="1"/>
<line x1="471.5" y1="454.8" x2="479.5" y2="454.8" stroke="#484848" stroke-width="1.2"/>
<rect x="467.3" y="386.8" width="16.40" height="62.80" fill="#fff" stroke="#484848" stroke-width="1"/>
<line x1="467.3" y1="425.7" x2="483.7" y2="425.7" stroke="#484848" stroke-width="1"/>
<line x1="500.4" y1="382.1" x2="500.4" y2="384.4" stroke="#484848" stroke-width="1"/>
<line x1="496.4" y1="382.1" x2="504.4" y2="382.1" stroke="#484848" stroke-width="1.2"/>
<line x1="500.4" y1="422.2" x2="500.4" y2="425.7" stroke="#484848" stroke-width="1"/>
<line x1="496.4" y1="425.7" x2="504.4" y2="425.7" stroke="#484848" stroke-width="1.2"/>
<rect x="492.4" y="384.4" width="16.00" height="37.80" fill="#fff" stroke="#484848" stroke-width="1"/>
<line x1="492.4" y1="408.4" x2="508.4" y2="408.4" stroke="#484848" stroke-width="1"/>
<text x="334.2" y="471.5" font-family="'Liberation Serif', serif" font-size="8" font-weight="bold" text-anchor="end" fill="#151515" stroke="#151515" stroke-width="0.15" transform="rotate(-90 334.2 471.5)" textLength="16.2" lengthAdjust="spacingAndGlyphs">CTR</text>
<text x="356.2" y="473.3" font-family="'Liberation Serif', serif" font-size="8" font-weight="bold" text-anchor="end" fill="#151515" stroke="#151515" stroke-width="0.15" transform="rotate(-90 356.2 473.3)" textLength="13.5" lengthAdjust="spacingAndGlyphs">LPS</text>
<text x="382.5" y="470.8" font-family="'Liberation Serif', serif" font-size="8" font-weight="bold" text-anchor="end" fill="#151515" stroke="#151515" stroke-width="0.15" transform="rotate(-90 382.5 470.8)" textLength="29.8" lengthAdjust="spacingAndGlyphs">G-β<tspan dy="1.8" font-size="5.5">2</tspan><tspan dy="-1.8">GPI</tspan></text>
<text x="406.5" y="470.8" font-family="'Liberation Serif', serif" font-size="8" font-weight="bold" text-anchor="end" fill="#151515" stroke="#151515" stroke-width="0.15" transform="rotate(-90 406.5 470.8)" textLength="30.7" lengthAdjust="spacingAndGlyphs">M-β<tspan dy="1.8" font-size="5.5">2</tspan><tspan dy="-1.8">GPI</tspan></text>
<text x="427.3" y="470.8" font-family="'Liberation Serif', serif" font-size="8" font-weight="bold" text-anchor="end" fill="#151515" stroke="#151515" stroke-width="0.15" transform="rotate(-90 427.3 470.8)" textLength="25" lengthAdjust="spacingAndGlyphs">Glucose</text>
<text x="454.2" y="471.7" font-family="'Liberation Serif', serif" font-size="8" font-weight="bold" text-anchor="end" fill="#151515" stroke="#151515" stroke-width="0.15" transform="rotate(-90 454.2 471.7)" textLength="30.8" lengthAdjust="spacingAndGlyphs">Mannitol</text>
<text x="478.5" y="472.5" font-family="'Liberation Serif', serif" font-size="8" font-weight="bold" text-anchor="end" fill="#151515" stroke="#151515" stroke-width="0.15" transform="rotate(-90 478.5 472.5)" textLength="30.6" lengthAdjust="spacingAndGlyphs">G-β<tspan dy="1.8" font-size="5.5">2</tspan><tspan dy="-1.8">GPI</tspan></text>
<text x="505.6" y="473.1" font-family="'Liberation Serif', serif" font-size="8" font-weight="bold" text-anchor="end" fill="#151515" stroke="#151515" stroke-width="0.15" transform="rotate(-90 505.6 473.1)" textLength="31.1" lengthAdjust="spacingAndGlyphs">M-β<tspan dy="1.8" font-size="5.5">2</tspan><tspan dy="-1.8">GPI</tspan></text>
<line x1="474.4" y1="504.2" x2="474.4" y2="506" stroke="#484848" stroke-width="1"/>
<line x1="509.6" y1="504.2" x2="509.6" y2="506" stroke="#484848" stroke-width="1"/>
<line x1="474.4" y1="506" x2="509.6" y2="506" stroke="#484848" stroke-width="1"/>
<text x="493.8" y="516.9" font-family="'Liberation Serif', serif" font-size="8.3" font-weight="bold" text-anchor="middle" fill="#151515" stroke="#151515" stroke-width="0.15" textLength="38.7" lengthAdjust="spacingAndGlyphs">+α-RAGE</text>
<text x="290.3" y="403.75" font-family="'Liberation Serif', serif" font-size="9.2" font-weight="bold" text-anchor="middle" fill="#151515" stroke="#151515" stroke-width="0.15" transform="rotate(-90 290.3 403.75)" textLength="66.5" lengthAdjust="spacingAndGlyphs">NFkB p50 (a.u.)</text>
</svg>
</body></html>
